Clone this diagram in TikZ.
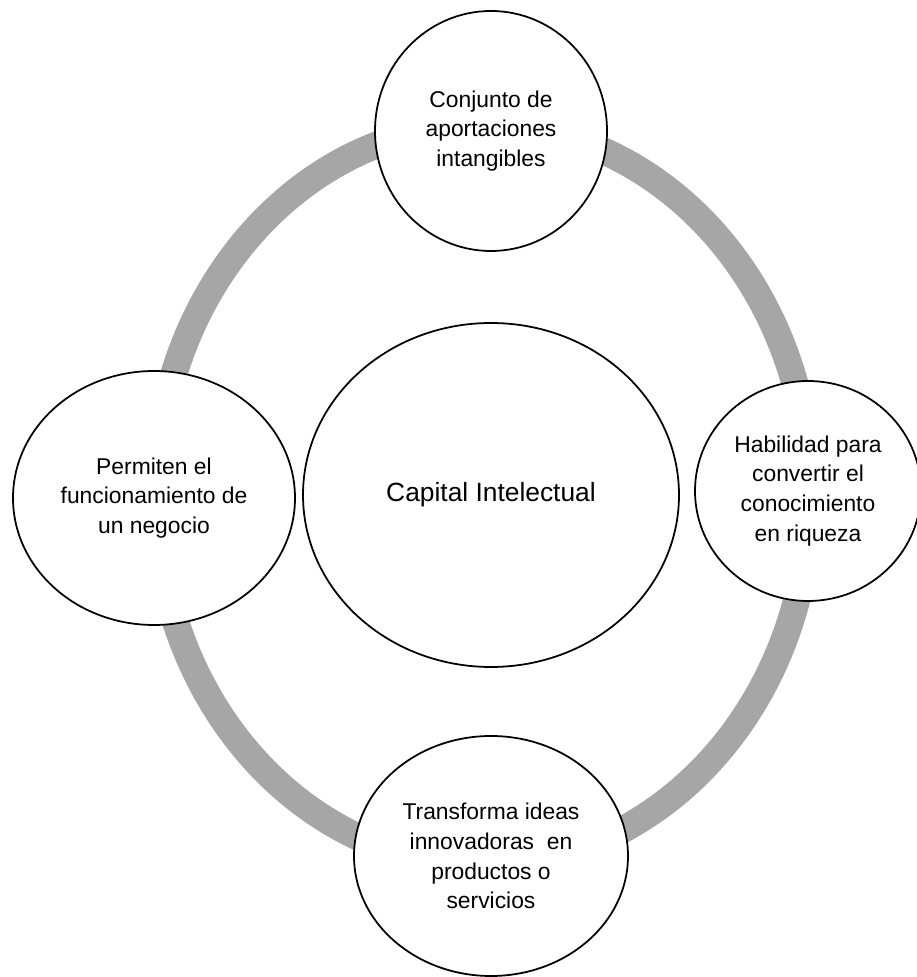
\documentclass[tikz,border=0pt]{standalone}
\usepackage{fontspec}
\setmainfont{Liberation Sans}
\usepackage{xcolor}

\definecolor{ringgray}{RGB}{166,166,166}

\tikzset{
    idea/.style={shape=ellipse,draw=black,line width=1pt,fill=white,
        inner sep=0pt,align=center,font=\fontsize{13}{17}\selectfont},
    ring/.style={draw=ringgray,line width=0.54cm}
}
\usetikzlibrary{shapes.geometric}

\begin{document}
\begin{tikzpicture}
        \useasboundingbox (0,0) rectangle (18.34,19.54);

        % gray cycle behind the bubbles
        \coordinate (O) at (9.66,9.64);
        \draw[ring] (O) ellipse (6.54 and 7.40);

        \node[idea,minimum width=7.52cm,minimum height=6.88cm,
              font=\fontsize{15}{18}\selectfont] (A) at (9.82,9.64) {Capital Intelectual};
        \node[idea,minimum width=4.64cm,minimum height=4.80cm] (B) at (9.82,16.92) {Conjunto de\\aportaciones\\intangibles};
        \node[idea,minimum width=4.52cm,minimum height=4.40cm] (C) at (16.16,9.72) {Habilidad para\\convertir el\\conocimiento\\en riqueza};
        \node[idea,minimum width=5.48cm,minimum height=4.80cm] (D) at (9.82,2.42) {Transforma ideas\\innovadoras~ en\\productos o\\servicios};
        \node[idea,minimum width=5.64cm,minimum height=5.08cm] (E) at (3.08,9.58) {Permiten el\\funcionamiento de\\un negocio};
    \end{tikzpicture}
\end{document}
